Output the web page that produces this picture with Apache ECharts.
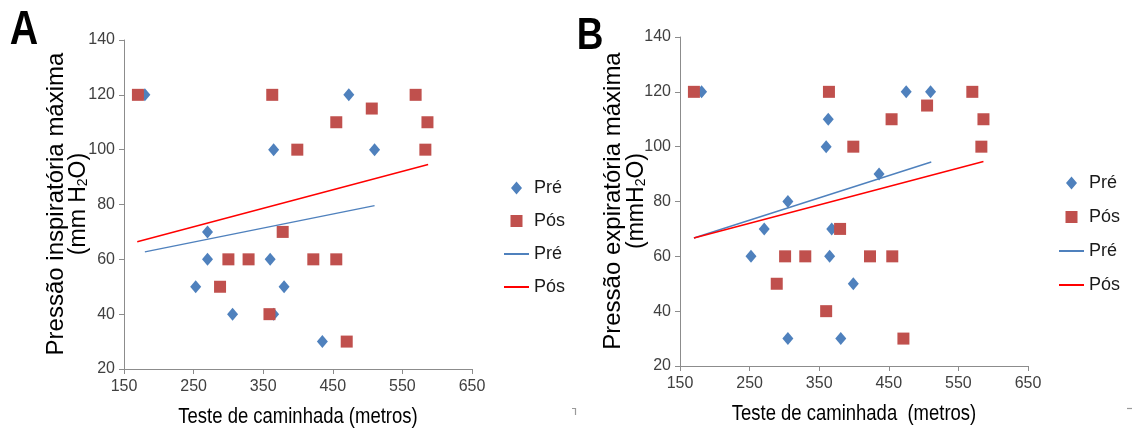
<!DOCTYPE html>
<html>
<head>
<meta charset="utf-8">
<script src="https://cdn.jsdelivr.net/npm/echarts@6/dist/echarts.min.js"></script>
<style>
  html, body {margin:0; padding:0; background:#fff;}
  #chart {width:1132px; height:430px;}
</style>
</head>
<body>
<div id="chart"></div>
<script>
// panel A - inspiratory pressure vs walk test
let preA = [[180,120],[365,100],[473,120],[510,100],[270,70],[270,60],[253,50],[306,40],[360,60],[380,50],[365,40],[435,30]];
let posA = [[170,120],[363,120],[399,100],[455,110],[506,115],[569,120],[586,110],[583,100],[378,70],[300,60],[329,60],[422,60],[455,60],[288,50],[359,40],[470,30]];
let trendPreA = [[180,62.7],[510,79.6]];
let trendPosA = [[169,66.4],[587,94.6]];

// panel B - expiratory pressure vs walk test
let preB = [[181,120],[363,110],[360,100],[475,120],[510,120],[436,90],[305,80],[271,70],[368,70],[252,60],[365,60],[399,50],[305,30],[381,30]];
let posB = [[170,120],[364,120],[399,100],[454,110],[505,115],[570,120],[586,110],[583,100],[380,70],[301,60],[330,60],[423,60],[455,60],[289,50],[360,40],[471,30]];
let trendPreB = [[170,66.7],[511,94.4]];
let trendPosB = [[170,66.7],[586,94.6]];

let legendNames = ['Pré', 'Pós', 'Pré ', 'Pós '];
let xTitles = ['Teste de caminhada (metros)', 'Teste de caminhada  (metros)'];

const FONT = '"Liberation Sans", Arial, sans-serif';
const BLUE = '#4F81BD', RED = '#C0504D', LRED = '#FF0000';
// legend icons drawn in a 25x13 box so they are not stretched
const CORNERS = 'M0,0L0,0.01ZM25,13L25,12.99Z';
const ICON_DIAMOND = 'path://' + CORNERS + 'M7,6.5L12.5,0L18,6.5L12.5,13Z';
const ICON_SQUARE = 'path://' + CORNERS + 'M6.5,0.5L18.5,0.5L18.5,12.5L6.5,12.5Z';

let chart = echarts.init(document.getElementById('chart'), null, {renderer:'canvas'});

function xAxisOf(idx){
    return {
        gridIndex: idx, type:'value', min:150, max:650, interval:100,
        axisLine:{show:true, lineStyle:{color:'#8c8c8c', width:1}},
        axisTick:{show:true, length:5, lineStyle:{color:'#8c8c8c'}},
        axisLabel:{fontFamily:FONT, fontSize:16, color:'#404040', margin:10},
        splitLine:{show:false}
    };
}
function yAxisOf(idx){
    return {
        gridIndex: idx, type:'value', min:20, max:140, interval:20,
        axisLine:{show:true, lineStyle:{color:'#8c8c8c', width:1}},
        axisTick:{show:true, length:5, lineStyle:{color:'#8c8c8c'}},
        axisLabel:{fontFamily:FONT, fontSize:16, color:'#404040', margin:9},
        splitLine:{show:false}
    };
}
function scatter(name, idx, data, sym, size, color){
    return {name, type:'scatter', xAxisIndex:idx, yAxisIndex:idx, data,
        symbol:sym, symbolSize:size, itemStyle:{color, opacity:1}};
}
function trend(name, idx, data, color){
    return {name, type:'line', xAxisIndex:idx, yAxisIndex:idx, data,
        symbol:'none', lineStyle:{color, width:1.4}, itemStyle:{color}};
}
function legendOf(left, top, gap){
    let hide = {color:'rgba(0,0,0,0)', opacity:0, borderWidth:0};
    return {
        orient:'vertical', left, top, itemGap:gap, itemWidth:25, itemHeight:13,
        selectedMode:false,
        data:[
            {name:legendNames[0], icon:ICON_DIAMOND},
            {name:legendNames[1], icon:ICON_SQUARE},
            {name:legendNames[2], itemStyle:hide},
            {name:legendNames[3], itemStyle:hide}
        ],
        textStyle:{fontFamily:FONT, fontSize:18, color:'#1a1a1a'}
    };
}
function yTitle(x1, x2, yc, line1, line2){
    return [
        {type:'text', x:x1, y:yc, rotation:Math.PI/2,
         style:{text:line1, fontFamily:FONT, fontSize:24, fill:'#000', align:'center', verticalAlign:'middle'}},
        {type:'text', x:x2, y:yc, rotation:Math.PI/2,
         style:{text:line2, fontFamily:FONT, fontSize:23, fill:'#000', align:'center', verticalAlign:'middle',
            rich:{n:{fontFamily:FONT, fontSize:23, fill:'#000'}, s:{fontFamily:FONT, fontSize:14, fill:'#000', verticalAlign:'bottom'}}}}
    ];
}
function xTitle(xc, yc, text){
    return {type:'text', x:xc, y:yc, scaleX:0.84,
        style:{text, fontFamily:FONT, fontSize:22, fill:'#000', align:'center', verticalAlign:'middle'}};
}
function mark(points){
    return {type:'polyline', shape:{points}, style:{stroke:'#9a9a9a', lineWidth:1.2, fill:null}};
}

let option = {
    backgroundColor:'#fff',
    animation:false,
    grid:[
        {left:124, top:40, width:348, height:329},
        {left:680, top:37, width:348, height:329}
    ],
    xAxis:[xAxisOf(0), xAxisOf(1)],
    yAxis:[yAxisOf(0), yAxisOf(1)],
    legend:[legendOf(498, 174, 15), legendOf(1053, 169, 16)],
    series:[
        scatter('Pré', 0, preA, 'diamond', [11,13], BLUE),
        scatter('Pós', 0, posA, 'rect', 12, RED),
        trend('Pré ', 0, trendPreA, BLUE),
        trend('Pós ', 0, trendPosA, LRED),
        scatter('Pré', 1, preB, 'diamond', [11,13], BLUE),
        scatter('Pós', 1, posB, 'rect', 12, RED),
        trend('Pré ', 1, trendPreB, BLUE),
        trend('Pós ', 1, trendPosB, LRED)
    ],
    graphic:[
        {type:'text', x:24, y:31, scaleX:0.82,
         style:{text:'A', fontFamily:FONT, fontWeight:'bold', fontSize:48, fill:'#000', align:'center', verticalAlign:'middle'}},
        {type:'text', x:590, y:37, scaleX:0.82,
         style:{text:'B', fontFamily:FONT, fontWeight:'bold', fontSize:45, fill:'#000', align:'center', verticalAlign:'middle'}},
        xTitle(298, 417, xTitles[0]),
        xTitle(854, 414, xTitles[1]),
        mark([[572,408.5],[575.5,408.5],[575.5,415]]),
        mark([[1127,408.5],[1132,408.5]])
    ].concat(
        yTitle(56, 79, 204, 'Pressão inspiratória máxima', '{n|(mm H}{s|2}{n|O)}'),
        yTitle(613, 637, 201, 'Pressão expiratória máxima', '{n|(mmH}{s|2}{n|O)}')
    )
};
chart.setOption(option);
</script>
</body>
</html>
